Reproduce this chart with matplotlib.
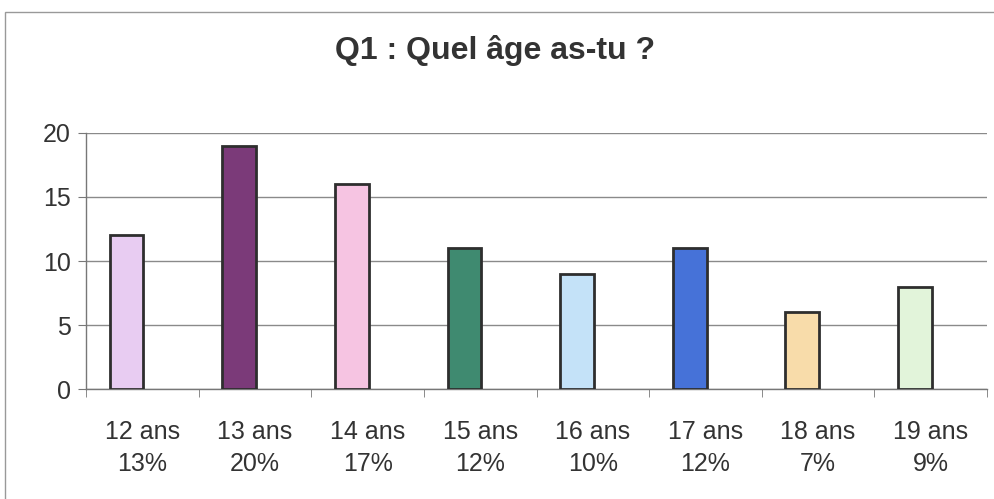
import matplotlib
matplotlib.use('Agg')
import matplotlib.pyplot as plt
import numpy as np
from matplotlib.patches import Rectangle

plt.rcParams['font.family'] = ['Liberation Sans', 'DejaVu Sans']

ages = ['12 ans', '13 ans', '14 ans', '15 ans', '16 ans', '17 ans', '18 ans', '19 ans']
pcts = ['13%', '20%', '17%', '12%', '10%', '12%', '7%', '9%']
counts = [12, 19, 16, 11, 9, 11, 6, 8]
colors = ['#e8ccf2', '#7b3a79', '#f6c4e2', '#3f8a70', '#c4e2f8', '#4672d8', '#f8dcaa', '#e2f4da']

fig = plt.figure(figsize=(9.94, 4.99), dpi=100)
ax = fig.add_axes([0.0865, 0.2204, 0.9065, 0.5131])

x = np.arange(len(ages)) + 0.5
ax.bar(x - 0.14, counts, width=0.30, color=colors, edgecolor='#2e2e2e', linewidth=2, zorder=3)

ax.set_xlim(0, len(ages))
ax.set_ylim(0, 20)
ax.set_yticks([0, 5, 10, 15, 20])
ax.yaxis.grid(True, color='#8a8a8a', linewidth=1, zorder=0)

ax.set_xticks(x)
ax.set_xticklabels([a + '\n' + p for a, p in zip(ages, pcts)], linespacing=1.45)
ax.set_xticks(np.arange(len(ages) + 1), minor=True)
ax.tick_params(axis='x', which='major', length=0, pad=22, labelsize=18, labelcolor='#333333')
ax.tick_params(axis='x', which='minor', length=6, color='#777777', direction='out')
ax.tick_params(axis='y', length=6, color='#777777', labelsize=18, labelcolor='#333333', pad=5)

for s in ['top', 'right']:
    ax.spines[s].set_visible(False)
for s in ['left', 'bottom']:
    ax.spines[s].set_color('#777777')
    ax.spines[s].set_linewidth(1)

fig.text(0.4985, 0.898, 'Q1 : Quel âge as-tu ?', ha='center', va='center',
         fontsize=23, fontweight='bold', color='#333333')

# outer frame of the chart area
fig.patches.append(Rectangle((5 / 994, -0.1), 1.2, 1 - 12 / 499 + 0.1, transform=fig.transFigure,
                             fill=False, edgecolor='#999999', linewidth=1))

fig.savefig('out.png', dpi=100)
